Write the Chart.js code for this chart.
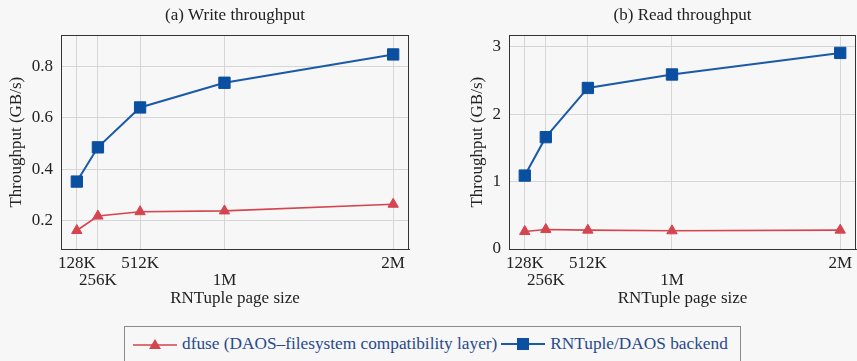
<!DOCTYPE html>
<html>
<head>
<meta charset="utf-8">
<script src="https://cdn.jsdelivr.net/npm/chart.js@4"></script>
<style>
html,body{margin:0;padding:0;background:#f7f7f7;width:857px;height:361px;overflow:hidden;font-family:"Liberation Serif","Times New Roman",serif;position:relative;}
#w1{position:absolute;left:0;top:0;width:430px;height:320px;}
#w2{position:absolute;left:430px;top:0;width:447px;height:320px;}
#legend{position:absolute;left:124px;top:326px;width:617px;height:38px;border:1px solid #8a8a8a;box-sizing:border-box;display:flex;align-items:center;padding-left:8px;padding-bottom:2px;font-size:17.3px;color:#284a8a;white-space:nowrap;}
#legend svg{display:block;}
#legend .t{margin:0 4px 0 5px;}
</style>
</head>
<body>
<div id="w1"><canvas id="c1" width="430" height="320"></canvas></div>
<div id="w2"><canvas id="c2" width="447" height="320"></canvas></div>
<div id="legend">
  <svg width="44" height="14"><line x1="0" y1="8" x2="44" y2="8" stroke="#d5454f" stroke-width="1.5"/><polygon points="22,2 28,12 16,12" fill="#d5454f"/></svg>
  <span class="t">dfuse (DAOS–filesystem compatibility layer)</span>
  <svg width="44" height="14"><line x1="0" y1="7" x2="44" y2="7" stroke="#1a5aa8" stroke-width="2"/><rect x="16" y="1" width="12" height="12" fill="#0a4fa0"/></svg>
  <span class="t">RNTuple/DAOS backend</span>
</div>
<script>
// ---- data ----
const pageSizesK = [128, 256, 512, 1024, 2048];
const pageSizeLabels = ['128K', '256K', '512K', '1M', '2M'];
const writeDfuse = [0.162, 0.218, 0.235, 0.238, 0.264];
const writeRNTuple = [0.352, 0.485, 0.640, 0.736, 0.846];
const readDfuse = [0.26, 0.29, 0.28, 0.27, 0.28];
const readRNTuple = [1.09, 1.66, 2.39, 2.59, 2.91];
const writeYTicks = [0.2, 0.4, 0.6, 0.8];
const readYTicks = [0, 1, 2, 3];

const RED = '#d5454f';
const BLUE = '#0a4fa0';
const BLUE_LINE = '#1a5aa8';
const FONT = "'Liberation Serif', 'Times New Roman', serif";
const TXT = '#222222';

const boxPlugin = {
  id: 'box',
  beforeDatasetsDraw(chart) {
    const a = chart.chartArea, ctx = chart.ctx;
    ctx.save();
    ctx.strokeStyle = '#333333';
    ctx.lineWidth = 1;
    ctx.strokeRect(Math.round(a.left) + 0.5, Math.round(a.top) + 0.5, Math.round(a.right - a.left) - 1, Math.round(a.bottom - a.top));
    ctx.restore();
  }
};

function pts(vals) { return pageSizesK.map((x, i) => ({ x: x, y: vals[i] })); }

function makeChart(id, title, dfuse, rnt, yTicks, yMin, yMax, yWidth, yTitlePad, decimals, rightPad) {
  return new Chart(document.getElementById(id), {
    type: 'line',
    data: {
      datasets: [
        { label: 'dfuse (DAOS–filesystem compatibility layer)', data: pts(dfuse), borderColor: RED, backgroundColor: RED,
          borderWidth: 1.6, pointStyle: 'triangle', pointRadius: 6, pointBorderWidth: 1, tension: 0 },
        { label: 'RNTuple/DAOS backend', data: pts(rnt), borderColor: BLUE_LINE, backgroundColor: BLUE, pointBorderColor: BLUE,
          borderWidth: 2, pointStyle: 'rect', pointRadius: 8, pointBorderWidth: 1, tension: 0 }
      ]
    },
    options: {
      responsive: false,
      animation: false,
      events: [],
      layout: { padding: { left: 0, right: rightPad, top: 0, bottom: 0 } },
      plugins: {
        legend: { display: false },
        tooltip: { enabled: false },
        title: { display: true, text: title, fullSize: false, color: TXT,
          font: { family: FONT, size: 17, weight: 'normal', lineHeight: 1.2 }, padding: { top: 5, bottom: 10 } }
      },
      scales: {
        x: {
          type: 'linear', min: 32, max: 2144,
          afterBuildTicks: s => { s.ticks = pageSizesK.map(v => ({ value: v })); },
          afterFit: s => { s.height = 71; },
          ticks: {
            autoSkip: false, maxRotation: 0, minRotation: 0, padding: 6, color: TXT,
            font: { family: FONT, size: 17, lineHeight: 1.0 },
            callback: v => { const i = pageSizesK.indexOf(v); return i % 2 ? ['', pageSizeLabels[i]] : pageSizeLabels[i]; }
          },
          grid: { color: '#d6d6d6', drawTicks: false, lineWidth: 1 },
          border: { display: true, color: '#333333', width: 1 },
          title: { display: true, text: 'RNTuple page size', color: TXT,
            font: { family: FONT, size: 17, lineHeight: 1.2 }, padding: { top: 0, bottom: 11 } }
        },
        y: {
          min: yMin, max: yMax,
          afterBuildTicks: s => { s.ticks = yTicks.map(v => ({ value: v })); },
          afterFit: s => { s.width = yWidth; },
          ticks: { padding: 8, color: TXT, font: { family: FONT, size: 17 },
            callback: v => Number(v).toFixed(decimals) },
          grid: { color: '#d6d6d6', drawTicks: false, lineWidth: 1 },
          border: { display: true, color: '#333333', width: 1 },
          title: { display: true, text: 'Throughput (GB/s)', color: TXT,
            font: { family: FONT, size: 17, lineHeight: 1.2 }, padding: { top: yTitlePad, bottom: 0 } }
        }
      }
    },
    plugins: [boxPlugin]
  });
}

makeChart('c1', '(a) Write throughput', writeDfuse, writeRNTuple, writeYTicks, 0.09, 0.92, 61, 6.5, 1, 21);
makeChart('c2', '(b) Read throughput', readDfuse, readRNTuple, readYTicks, 0, 3.17, 79, 37, 0, 21);
</script>
</body>
</html>
